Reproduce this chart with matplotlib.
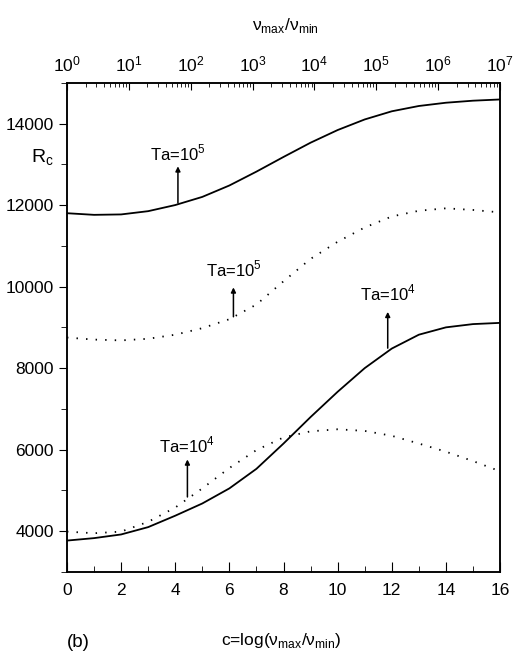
import numpy as np
import matplotlib
matplotlib.use('Agg')
import matplotlib.pyplot as plt
from matplotlib.ticker import MultipleLocator, LogLocator, NullFormatter

plt.rcParams['font.family'] = ['Liberation Sans', 'DejaVu Sans']
plt.rcParams['font.size'] = 12.5

# c = log(nu_max/nu_min)
c = [0, 1, 2, 3, 4, 5, 6, 7, 8, 9, 10, 11, 12, 13, 14, 15, 16]
# Ta=10^5, solid and dotted
ta5_solid = [11800, 11760, 11770, 11850, 12000, 12200, 12480, 12820, 13180,
             13530, 13840, 14100, 14300, 14430, 14510, 14560, 14590]
ta5_dot = [8750, 8700, 8680, 8720, 8820, 8980, 9200, 9560, 10130,
           10680, 11100, 11450, 11720, 11860, 11920, 11880, 11820]
# Ta=10^4, solid and dotted
ta4_solid = [3770, 3830, 3920, 4100, 4380, 4680, 5050, 5530, 6150,
             6800, 7420, 8000, 8480, 8820, 9000, 9080, 9110]
ta4_dot = [3990, 3950, 3990, 4230, 4580, 5050, 5550, 5990, 6300,
           6450, 6500, 6460, 6340, 6150, 5950, 5720, 5470]

# top axis decades of nu_max/nu_min
decades = [1e0, 1e1, 1e2, 1e3, 1e4, 1e5, 1e6, 1e7]

# annotations: (label, x, y_base, y_tip, y_text)
notes = [
    (r'Ta=10$^{\mathdefault{5}}$', 4.1, 12050, 12950, 13270),
    (r'Ta=10$^{\mathdefault{5}}$', 6.15, 9260, 9980, 10420),
    (r'Ta=10$^{\mathdefault{4}}$', 11.85, 8490, 9380, 9830),
    (r'Ta=10$^{\mathdefault{4}}$', 4.45, 4840, 5760, 6120),
]

fig = plt.figure(figsize=(5.15, 6.62), dpi=100)
ax = fig.add_axes([0.130, 0.136, 0.841, 0.739])

dots = (0, (0.8, 4.5))
ax.plot(c, ta5_solid, color='black', lw=1.3)
ax.plot(c, ta4_solid, color='black', lw=1.3)
ax.plot(c, ta5_dot, color='black', lw=1.3, linestyle=dots)
ax.plot(c, ta4_dot, color='black', lw=1.3, linestyle=dots)

for txt, x, yb, yt, ytxt in notes:
    ax.annotate('', xy=(x, yt), xytext=(x, yb),
                arrowprops=dict(arrowstyle='-|>', color='black', lw=1.1,
                                mutation_scale=7, shrinkA=0, shrinkB=0))
    ax.text(x, ytxt, txt, ha='center', va='center', fontsize=12)

ax.set_xlim(0, 16)
ax.set_ylim(3000, 15000)
ax.xaxis.set_major_locator(MultipleLocator(2))
ax.xaxis.set_minor_locator(MultipleLocator(1))
ax.yaxis.set_major_locator(MultipleLocator(2000))
ax.yaxis.set_minor_locator(MultipleLocator(1000))
ax.tick_params(axis='x', which='both', direction='in', top=False, pad=8)
ax.tick_params(axis='x', which='major', length=7)
ax.tick_params(axis='x', which='minor', length=4)
ax.tick_params(axis='y', which='both', direction='out', right=False)
ax.tick_params(axis='y', which='major', length=6)
ax.tick_params(axis='y', which='minor', length=4)

ax.text(-0.9, 13150, r'R$_{\mathdefault{c}}$', ha='center', va='center',
        fontsize=14, clip_on=False)

top = ax.twiny()
top.set_xscale('log')
top.set_xlim(decades[0], decades[-1])
top.set_xticks(decades)
top.xaxis.set_minor_locator(LogLocator(base=10, subs=np.arange(2, 10), numticks=100))
top.xaxis.set_minor_formatter(NullFormatter())
top.tick_params(axis='x', which='both', direction='in', pad=6)
top.tick_params(axis='x', which='major', length=5)
top.tick_params(axis='x', which='minor', length=3)

for a in (ax, top):
    for s in a.spines.values():
        s.set_linewidth(1.1)

fig.text(0.555, 0.962, 'ν$_{\\mathdefault{max}}$/ν$_{\\mathdefault{min}}$',
         ha='center', va='center', fontsize=12.5)
fig.text(0.546, 0.032, 'c=log(ν$_{\\mathdefault{max}}$/ν$_{\\mathdefault{min}}$)',
         ha='center', va='center', fontsize=12.5)
fig.text(0.152, 0.030, '(b)', ha='center', va='center', fontsize=13.5)

fig.savefig('out.png', dpi=100)
